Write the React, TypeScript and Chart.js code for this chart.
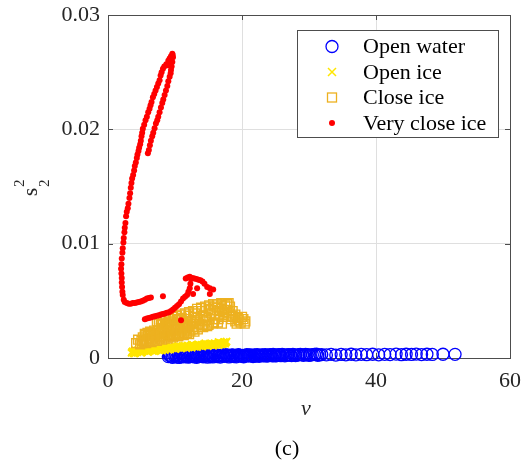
import React, { useEffect, useRef } from "react";
import { Chart, registerables } from "chart.js";

Chart.register(...registerables);

// ---- axes ----
const xTicks = [0, 20, 40, 60];
const xTickLabels = ["0", "20", "40", "60"];
const yTicks = [0, 0.01, 0.02, 0.03];
const yTickLabels = ["0", "0.01", "0.02", "0.03"];
const seriesNames = ["Open water", "Open ice", "Close ice", "Very close ice"];

// ---- data: [nu, s2^2] ----
const openWater: [number, number][] = [
  [9.0, 0.00012], [9.3, 0.00018], [9.5, 0.0001], [9.8, 0.00022], [10.0, 0.00015], [10.3, 0.00008],
  [10.5, 0.0002], [10.8, 0.00013], [11.0, 0.00025], [11.3, 0.0001], [11.6, 0.00018], [11.8, 0.00022],
  [12.1, 0.00012], [12.4, 0.00026], [12.6, 0.00016], [12.9, 0.00009], [13.1, 0.00021], [13.4, 0.00014],
  [13.7, 0.00027], [13.9, 0.00018], [14.2, 0.00011], [14.5, 0.00024], [14.7, 0.00016], [15.0, 0.00028],
  [15.3, 0.00013], [15.5, 0.00021], [15.8, 0.00018], [16.1, 0.00025], [16.3, 0.00012], [16.6, 0.00022],
  [16.9, 0.00016], [17.1, 0.00027], [17.4, 0.00014], [17.7, 0.0002], [17.9, 0.00024], [18.2, 0.00017],
  [18.5, 0.00028], [18.8, 0.00013], [19.0, 0.00022], [19.3, 0.00019], [19.6, 0.00026], [19.9, 0.00015],
  [20.1, 0.00023], [20.4, 0.00018], [20.7, 0.00029], [21.0, 0.00016], [21.3, 0.00024], [21.5, 0.0002],
  [21.8, 0.00027], [22.1, 0.00017], [22.4, 0.00025], [22.7, 0.00021], [23.0, 0.00028], [23.3, 0.00018],
  [23.6, 0.00024], [23.9, 0.00022], [24.2, 0.00029], [24.5, 0.00019], [24.8, 0.00026], [25.1, 0.00022],
  [25.5, 0.0003], [25.8, 0.0002], [26.2, 0.00027], [26.6, 0.00024], [27.0, 0.0003], [27.4, 0.00021],
  [27.8, 0.00028], [28.3, 0.00025], [28.7, 0.00031], [29.2, 0.00023], [29.7, 0.00029], [30.2, 0.00026],
  [30.8, 0.00031], [31.3, 0.00024], [31.9, 0.0003], [32.6, 0.00027], [33.3, 0.00032], [34.0, 0.00026],
  [34.8, 0.00031], [35.5, 0.00028], [36.3, 0.00033], [37.0, 0.00027], [37.8, 0.00032], [38.6, 0.00029],
  [39.5, 0.00033], [40.4, 0.00028], [41.3, 0.00032], [42.1, 0.0003], [43.0, 0.00034], [43.8, 0.00029],
  [44.5, 0.00033], [45.3, 0.00031], [46.0, 0.00034], [46.8, 0.0003], [47.6, 0.00033], [48.4, 0.00031],
  [50.0, 0.00033], [51.8, 0.00032],
  [9.15, 0.00025], [9.65, 0.00006], [10.15, 0.00027], [10.65, 0.00005], [11.15, 0.00017], [11.45, 0.00028],
  [11.95, 0.00007], [12.25, 0.00019], [12.75, 0.00029], [13.25, 0.00006], [13.55, 0.0002], [14.05, 0.00029],
  [14.35, 0.00017], [14.85, 0.00007], [15.15, 0.0002], [15.65, 0.00009], [15.95, 0.00029], [16.45, 0.00018],
  [16.75, 0.00008], [17.25, 0.00021], [17.55, 0.00029], [18.05, 0.00009], [18.35, 0.0002], [18.65, 0.00024],
  [19.15, 0.0001], [19.45, 0.00029], [19.75, 0.00021], [20.25, 0.00011], [20.55, 0.0002], [20.85, 0.00024],
  [21.15, 0.00028], [21.65, 0.00013], [21.95, 0.00022], [22.25, 0.0003], [22.55, 0.00015], [22.85, 0.00025],
  [23.15, 0.00022], [23.45, 0.0003], [23.75, 0.00016], [24.05, 0.00025], [24.35, 0.00023], [24.65, 0.00031],
  [24.95, 0.00018], [25.3, 0.00027], [25.65, 0.00024], [26.0, 0.00031], [26.4, 0.00019], [26.8, 0.00028],
  [27.2, 0.00026], [27.6, 0.00031], [28.0, 0.00022], [28.5, 0.00029], [29.0, 0.00027], [29.5, 0.00032],
  [30.0, 0.00024], [30.5, 0.00029], [31.1, 0.00033], [31.6, 0.00028],
];

const openIce: [number, number][] = [
  [3.5, 0.00045], [3.7, 0.0006], [3.9, 0.0005], [4.1, 0.00068], [4.3, 0.00055], [4.5, 0.00072],
  [4.7, 0.00058], [4.9, 0.00048], [5.1, 0.00066], [5.3, 0.00076], [5.5, 0.0006], [5.7, 0.0007],
  [5.9, 0.00055], [6.1, 0.00078], [6.3, 0.00065], [6.5, 0.00082], [6.7, 0.0006], [6.9, 0.00074],
  [7.1, 0.00086], [7.3, 0.00068], [7.5, 0.0008], [7.7, 0.00064], [7.9, 0.0009], [8.1, 0.00075],
  [8.3, 0.00084], [8.5, 0.0007], [8.7, 0.00094], [8.9, 0.0008], [9.1, 0.00088], [9.3, 0.00074],
  [9.5, 0.00098], [9.7, 0.00083], [9.9, 0.00092], [10.1, 0.00078], [10.3, 0.00102], [10.5, 0.00088],
  [10.7, 0.00096], [10.9, 0.00082], [11.1, 0.00106], [11.3, 0.00092], [11.5, 0.001], [11.7, 0.00087],
  [11.9, 0.0011], [12.1, 0.00096], [12.3, 0.00104], [12.5, 0.0009], [12.7, 0.00114], [12.9, 0.001],
  [13.1, 0.00108], [13.3, 0.00095], [13.5, 0.00118], [13.7, 0.00104], [13.9, 0.00112], [14.1, 0.00099],
  [14.3, 0.00122], [14.5, 0.00108], [14.7, 0.00116], [14.9, 0.00103], [15.1, 0.00126], [15.3, 0.00112],
  [15.5, 0.0012], [15.7, 0.00107], [15.9, 0.0013], [16.1, 0.00116], [16.3, 0.00124], [16.5, 0.00111],
  [16.7, 0.00134], [16.9, 0.0012], [17.1, 0.00128], [17.3, 0.0014], [17.5, 0.00125],
  [3.6, 0.00055], [3.8, 0.0004], [4.0, 0.00058], [4.2, 0.00062], [4.4, 0.0005], [4.6, 0.00064],
  [4.8, 0.00068], [5.0, 0.00056], [5.2, 0.0007], [5.4, 0.00064], [5.6, 0.00074], [5.8, 0.00066],
  [6.0, 0.0007], [6.2, 0.00072], [6.4, 0.0007], [6.6, 0.00076], [6.8, 0.00068], [7.0, 0.0008],
  [7.2, 0.00074], [7.4, 0.00078], [7.6, 0.00072], [7.8, 0.00082], [8.0, 0.00082], [8.2, 0.00078],
  [8.4, 0.00088], [8.6, 0.00082], [8.8, 0.00086], [9.0, 0.00084], [9.2, 0.00092], [9.4, 0.00086],
  [9.6, 0.0009], [9.8, 0.00088], [10.0, 0.00096], [10.2, 0.0009], [10.4, 0.00094], [10.6, 0.00092],
  [10.8, 0.001], [11.0, 0.00094], [11.2, 0.00098], [11.4, 0.00097], [11.6, 0.00104], [11.8, 0.00098],
  [12.0, 0.00102], [12.2, 0.00101], [12.4, 0.00108], [12.6, 0.00102], [12.8, 0.00106], [13.0, 0.00105],
  [13.2, 0.00112], [13.4, 0.00106], [13.6, 0.0011], [13.8, 0.00109], [14.0, 0.00116], [14.2, 0.0011],
  [14.4, 0.00114], [14.6, 0.00113], [14.8, 0.0012], [15.0, 0.00114], [15.2, 0.00118], [15.4, 0.00117],
  [15.6, 0.00124], [15.8, 0.00118], [16.0, 0.00122], [16.2, 0.00121], [16.4, 0.00128], [16.6, 0.00122],
  [16.8, 0.00126], [17.0, 0.00132], [17.2, 0.00124], [17.4, 0.00133], [17.6, 0.00136],
  [4.0, 0.00038], [5.0, 0.00046], [6.0, 0.00052], [7.0, 0.00058], [8.0, 0.00066], [9.0, 0.00072],
  [10.0, 0.0008], [11.0, 0.00086], [12.0, 0.00092], [13.0, 0.00098], [14.0, 0.00104], [15.0, 0.0011],
  [16.0, 0.00116], [17.0, 0.0012], [8.5, 0.00098], [10.5, 0.00108], [12.5, 0.00118], [14.5, 0.0013],
  [16.5, 0.0014], [6.5, 0.00088], [17.7, 0.00144],
];

const closeIce: [number, number][] = [
  [5.0, 0.0015], [5.2, 0.0018], [5.4, 0.0014], [5.6, 0.002], [5.8, 0.0016], [6.0, 0.0019],
  [6.2, 0.0015], [6.4, 0.0021], [6.6, 0.0017], [6.8, 0.002], [7.0, 0.0016], [7.2, 0.0022],
  [7.4, 0.0018], [7.6, 0.0021], [7.8, 0.0017], [8.0, 0.0023], [8.2, 0.0019], [8.4, 0.0022],
  [8.6, 0.0018], [8.8, 0.0024], [9.0, 0.002], [9.2, 0.0023], [9.4, 0.0019], [9.6, 0.0025],
  [9.8, 0.0021], [10.0, 0.0024], [10.2, 0.002], [10.4, 0.0026], [10.6, 0.0022], [10.8, 0.0025],
  [11.0, 0.0021], [11.2, 0.0027], [11.4, 0.0023], [11.6, 0.0026], [11.8, 0.0022], [12.0, 0.0028],
  [12.3, 0.0024], [12.6, 0.0027], [12.9, 0.0023],
  [7.3, 0.0032], [7.6, 0.003], [7.9, 0.0033], [8.2, 0.0031], [8.5, 0.0034], [8.8, 0.0029],
  [9.1, 0.0035], [9.4, 0.0032], [9.7, 0.0036], [10.0, 0.003], [10.3, 0.0037], [10.6, 0.0033],
  [10.9, 0.0038], [11.2, 0.0031], [11.5, 0.0039], [11.8, 0.0034], [12.1, 0.004], [12.4, 0.0032],
  [12.7, 0.0041], [13.0, 0.0036], [13.3, 0.0043], [13.6, 0.003], [13.9, 0.0044], [14.2, 0.0037],
  [14.5, 0.0045], [14.8, 0.0033], [15.1, 0.0046], [15.4, 0.0039], [15.7, 0.0047], [16.0, 0.0034],
  [16.3, 0.0047], [16.6, 0.0041], [16.9, 0.0048], [17.2, 0.0036], [17.5, 0.0046], [17.8, 0.0042],
  [18.1, 0.0039], [18.4, 0.0034], [18.7, 0.0036], [19.0, 0.0032], [19.4, 0.0035], [19.8, 0.0031],
  [20.2, 0.0034], [20.5, 0.0032],
  [13.2, 0.0027], [14.0, 0.0029], [14.8, 0.0028], [15.6, 0.003], [16.4, 0.0031], [17.0, 0.003],
  [4.2, 0.0013], [4.5, 0.0016], [4.8, 0.0012],
  [5.1, 0.0013], [5.3, 0.0016], [5.5, 0.0021], [5.7, 0.0013], [5.9, 0.0022], [6.1, 0.0017],
  [6.3, 0.0023], [6.5, 0.0014], [6.7, 0.0019], [6.9, 0.0024], [7.1, 0.0019], [7.3, 0.0015],
  [7.5, 0.0024], [7.7, 0.0019], [7.9, 0.0026], [8.1, 0.0016], [8.3, 0.0025], [8.5, 0.0021],
  [8.7, 0.0027], [8.9, 0.0017], [9.1, 0.0026], [9.3, 0.0021], [9.5, 0.0028], [9.7, 0.0018],
  [9.9, 0.0027], [10.1, 0.0022], [10.3, 0.0029], [10.5, 0.0019], [10.7, 0.0028], [10.9, 0.0024],
  [11.1, 0.003], [11.3, 0.002], [11.5, 0.0029], [11.7, 0.0025], [11.9, 0.0031], [12.1, 0.0021],
  [12.4, 0.003], [12.7, 0.0025], [13.0, 0.0032], [13.4, 0.0025], [13.8, 0.0034], [14.2, 0.0027],
  [14.6, 0.0036], [15.0, 0.0029], [15.4, 0.0042], [15.8, 0.0031], [16.2, 0.0044], [16.6, 0.0037],
  [17.0, 0.0043], [17.4, 0.004], [17.8, 0.0047], [18.2, 0.0045], [18.6, 0.0041], [19.0, 0.0038],
  [19.5, 0.0033], [20.0, 0.0036], [20.4, 0.003], [8.0, 0.0029], [9.0, 0.0031], [10.0, 0.0034],
  [11.0, 0.0035], [12.0, 0.0037], [13.0, 0.0039], [14.0, 0.0041], [15.0, 0.0043], [16.0, 0.0045],
  [17.0, 0.0046], [18.0, 0.0048], [14.5, 0.0032], [16.5, 0.0034], [18.5, 0.0037], [19.2, 0.003],
];

const veryCloseIce: [number, number][] = [
  // outer arm
  [9.6, 0.0266], [9.4, 0.0264], [9.2, 0.0262], [9.0, 0.026], [8.7, 0.0257], [8.4, 0.0255],
  [8.2, 0.0253], [8.0, 0.025], [7.85, 0.0247], [7.7, 0.0243], [7.5, 0.024], [7.3, 0.0237],
  [7.1, 0.0234], [6.9, 0.0231], [6.7, 0.0228], [6.5, 0.0224], [6.35, 0.0221], [6.2, 0.0218],
  [6.0, 0.0215], [5.8, 0.0211], [5.6, 0.0208], [5.4, 0.0204], [5.2, 0.02005], [5.1, 0.0197],
  [5.0, 0.0194], [4.9, 0.019], [4.8, 0.0187], [4.65, 0.0184], [4.55, 0.0181], [4.4, 0.0178],
  [4.3, 0.0175], [4.15, 0.0171], [4.0, 0.0168], [3.9, 0.0164], [3.75, 0.016], [3.6, 0.0157],
  [3.5, 0.0153], [3.4, 0.0149], [3.3, 0.0144], [3.2, 0.014], [3.05, 0.0135], [2.95, 0.0131],
  [2.8, 0.0128], [2.7, 0.0124], [2.6, 0.0118], [2.5, 0.0114], [2.45, 0.011], [2.35, 0.0105],
  [2.3, 0.0101], [2.2, 0.0096], [2.15, 0.0092], [2.05, 0.0087], [2.0, 0.0082], [1.95, 0.0078],
  [2.0, 0.0074], [2.05, 0.007], [2.05, 0.0066], [2.1, 0.0062], [2.15, 0.0058], [2.2, 0.0055],
  [2.35, 0.0051], [2.5, 0.0049], [2.8, 0.0048], [3.1, 0.00475], [3.4, 0.00475], [3.7, 0.0048],
  [4.0, 0.0048], [4.3, 0.00485], [4.6, 0.0049], [4.9, 0.00495], [5.2, 0.005], [5.5, 0.0051],
  [5.8, 0.0052], [6.1, 0.00525], [6.4, 0.0053],
  // inner arm
  [9.7, 0.0263], [9.6, 0.0259], [9.5, 0.0255], [9.4, 0.0252], [9.35, 0.0249], [9.2, 0.0246],
  [9.0, 0.0242], [8.85, 0.0238], [8.65, 0.0234], [8.45, 0.023], [8.25, 0.0226], [8.1, 0.0223],
  [7.9, 0.0219], [7.7, 0.0215], [7.5, 0.0211], [7.35, 0.0208], [7.15, 0.0205], [6.95, 0.0201],
  [6.75, 0.0197], [6.6, 0.0194], [6.4, 0.019], [6.25, 0.0186], [6.1, 0.0182], [5.95, 0.0179],
  [9.3, 0.0261], [9.1, 0.0259], [9.5, 0.0264], [9.65, 0.0265], [8.9, 0.0256],
  // lower arm
  [5.5, 0.0034], [5.8, 0.00345], [6.1, 0.0035], [6.4, 0.00355], [6.7, 0.0036], [7.0, 0.00365],
  [7.3, 0.0037], [7.6, 0.00375], [7.9, 0.0038], [8.2, 0.00385], [8.5, 0.0039], [8.8, 0.00395],
  [9.1, 0.004], [9.4, 0.0041], [9.7, 0.00425], [10.0, 0.0044], [10.3, 0.00455], [10.6, 0.0047],
  [10.9, 0.00495], [11.2, 0.0052], [11.5, 0.00535], [11.8, 0.0055], [12.0, 0.0058], [12.2, 0.0061],
  [12.3, 0.0065], [12.4, 0.0069], [11.6, 0.00695], [11.9, 0.00705], [12.2, 0.0071], [12.6, 0.007],
  [12.9, 0.00695], [13.2, 0.0069], [13.5, 0.00685], [13.8, 0.0068], [14.1, 0.0067], [14.4, 0.0065],
  [14.8, 0.0062], [15.2, 0.0061], [15.7, 0.006], [15.2, 0.0056], [13.3, 0.0061], [12.7, 0.0056],
  [10.9, 0.0033], [8.2, 0.0054],
];

const BLUE = "#0000FF";
const YELLOW = "#FFE600";
const ORANGE = "#EDB120";
const RED = "#FF0000";
const AXIS = "#4d4d4d";
const TEXT = "#262626";
const FONT = "'Liberation Serif', 'Times New Roman', serif";

const decor = {
  id: "decor",
  beforeDatasetsDraw(chart: any) {
    const { ctx, chartArea: a, scales } = chart;
    ctx.save();
    ctx.strokeStyle = AXIS;
    ctx.lineWidth = 1;
    ctx.strokeRect(Math.round(a.left) + 0.5, Math.round(a.top) + 0.5, Math.round(a.right - a.left), Math.round(a.bottom - a.top));
    ctx.beginPath();
    xTicks.forEach((v) => {
      const x = Math.round(scales.x.getPixelForValue(v)) + 0.5;
      ctx.moveTo(x, a.bottom); ctx.lineTo(x, a.bottom - 5);
      ctx.moveTo(x, a.top); ctx.lineTo(x, a.top + 5);
    });
    yTicks.forEach((v) => {
      const y = Math.round(scales.y.getPixelForValue(v)) + 0.5;
      ctx.moveTo(a.left, y); ctx.lineTo(a.left + 5, y);
      ctx.moveTo(a.right, y); ctx.lineTo(a.right - 5, y);
    });
    ctx.stroke();
    ctx.restore();
  },
  afterDraw(chart: any) {
    const { ctx } = chart;
    ctx.save();
    // legend box
    const bx = 297, by = 30, bw = 201, bh = 107;
    ctx.fillStyle = "#ffffff";
    ctx.fillRect(bx, by, bw, bh);
    ctx.strokeStyle = AXIS;
    ctx.lineWidth = 1;
    ctx.strokeRect(bx + 0.5, by + 0.5, bw, bh);
    const rows = [46.5, 72, 97.5, 123];
    const mx = 332;
    ctx.strokeStyle = BLUE; ctx.lineWidth = 1.3;
    ctx.beginPath(); ctx.arc(mx, rows[0], 6, 0, Math.PI * 2); ctx.stroke();
    ctx.strokeStyle = YELLOW; ctx.lineWidth = 1.5;
    ctx.beginPath();
    ctx.moveTo(mx - 4, rows[1] - 4); ctx.lineTo(mx + 4, rows[1] + 4);
    ctx.moveTo(mx + 4, rows[1] - 4); ctx.lineTo(mx - 4, rows[1] + 4);
    ctx.stroke();
    ctx.strokeStyle = ORANGE; ctx.lineWidth = 1.3;
    ctx.strokeRect(mx - 4.5, rows[2] - 4.5, 9, 9);
    ctx.fillStyle = RED;
    ctx.beginPath(); ctx.arc(mx, rows[3], 3, 0, Math.PI * 2); ctx.fill();
    ctx.fillStyle = "#000000";
    ctx.font = `22px ${FONT}`;
    ctx.textBaseline = "middle";
    ctx.textAlign = "left";
    seriesNames.forEach((n, i) => ctx.fillText(n, 363, rows[i] + 1));

    // x-axis label
    ctx.fillStyle = TEXT;
    ctx.font = `italic 22px ${FONT}`;
    ctx.textAlign = "center";
    ctx.textBaseline = "alphabetic";
    ctx.fillText("\u03BD", 306, 415);

    // caption
    ctx.fillStyle = "#000000";
    ctx.font = `22px ${FONT}`;
    ctx.textBaseline = "middle";
    ctx.fillText("(c)", 287, 449);

    // y-axis label s_2^2
    ctx.fillStyle = TEXT;
    ctx.translate(37, 196);
    ctx.rotate(-Math.PI / 2);
    ctx.textAlign = "left";
    ctx.textBaseline = "alphabetic";
    ctx.font = `21px ${FONT}`;
    ctx.fillText("s", 0, 0);
    ctx.font = `15px ${FONT}`;
    ctx.fillText("2", 9, -13);
    ctx.fillText("2", 9, 12);
    ctx.restore();
  },
};

export default function App() {
  const ref = useRef<HTMLCanvasElement | null>(null);
  useEffect(() => {
    document.body.style.margin = "0";
    const canvas = ref.current;
    if (!canvas) return;
    const chart = new Chart(canvas, {
      type: "scatter",
      data: {
        datasets: [
          {
            label: seriesNames[0],
            data: openWater.map(([x, y]) => ({ x, y })),
            pointStyle: "circle",
            pointRadius: 6,
            pointBorderWidth: 1.3,
            borderColor: BLUE,
            backgroundColor: "rgba(0,0,0,0)",
            order: 3,
            clip: false,
          },
          {
            label: seriesNames[1],
            data: openIce.map(([x, y]) => ({ x, y })),
            pointStyle: "crossRot",
            pointRadius: 5,
            pointBorderWidth: 1.8,
            borderColor: YELLOW,
            backgroundColor: YELLOW,
            order: 2,
            clip: false,
          },
          {
            label: seriesNames[2],
            data: closeIce.map(([x, y]) => ({ x, y })),
            pointStyle: "rect",
            pointRadius: 6.3,
            pointBorderWidth: 1.4,
            borderColor: ORANGE,
            backgroundColor: "rgba(0,0,0,0)",
            order: 1,
            clip: false,
          },
          {
            label: seriesNames[3],
            data: veryCloseIce.map(([x, y]) => ({ x, y })),
            pointStyle: "circle",
            pointRadius: 3,
            pointBorderWidth: 0,
            borderColor: RED,
            backgroundColor: RED,
            order: 0,
            clip: false,
          },
        ],
      },
      options: {
        responsive: false,
        animation: false,
        events: [],
        layout: { padding: { top: 15, right: 18, left: 0, bottom: 0 } },
        plugins: { legend: { display: false }, tooltip: { enabled: false } },
        scales: {
          x: {
            type: "linear",
            min: 0,
            max: 60,
            afterBuildTicks: (s: any) => { s.ticks = xTicks.map((v) => ({ value: v })); },
            afterFit: (s: any) => { s.height = 102; s.paddingLeft = 0; s.paddingRight = 0; },
            grid: { color: "#dfdfdf", drawTicks: false, lineWidth: 1 },
            border: { display: false },
            ticks: {
              padding: 10,
              color: TEXT,
              font: { family: FONT, size: 22 },
              callback: (_v: any, i: number) => xTickLabels[i],
            },
          },
          y: {
            type: "linear",
            min: 0,
            max: 0.03,
            afterBuildTicks: (s: any) => { s.ticks = yTicks.map((v) => ({ value: v })); },
            afterFit: (s: any) => { s.width = 108; s.paddingTop = 0; s.paddingBottom = 0; },
            grid: { color: "#dfdfdf", drawTicks: false, lineWidth: 1 },
            border: { display: false },
            ticks: {
              padding: 8,
              color: TEXT,
              font: { family: FONT, size: 22 },
              callback: (_v: any, i: number) => yTickLabels[i],
            },
          },
        },
      },
      plugins: [decor],
    });
    return () => chart.destroy();
  }, []);
  return (
    <div style={{ width: 528, height: 460, position: "relative", background: "#fff" }}>
      <canvas ref={ref} width={528} height={460} />
    </div>
  );
}
